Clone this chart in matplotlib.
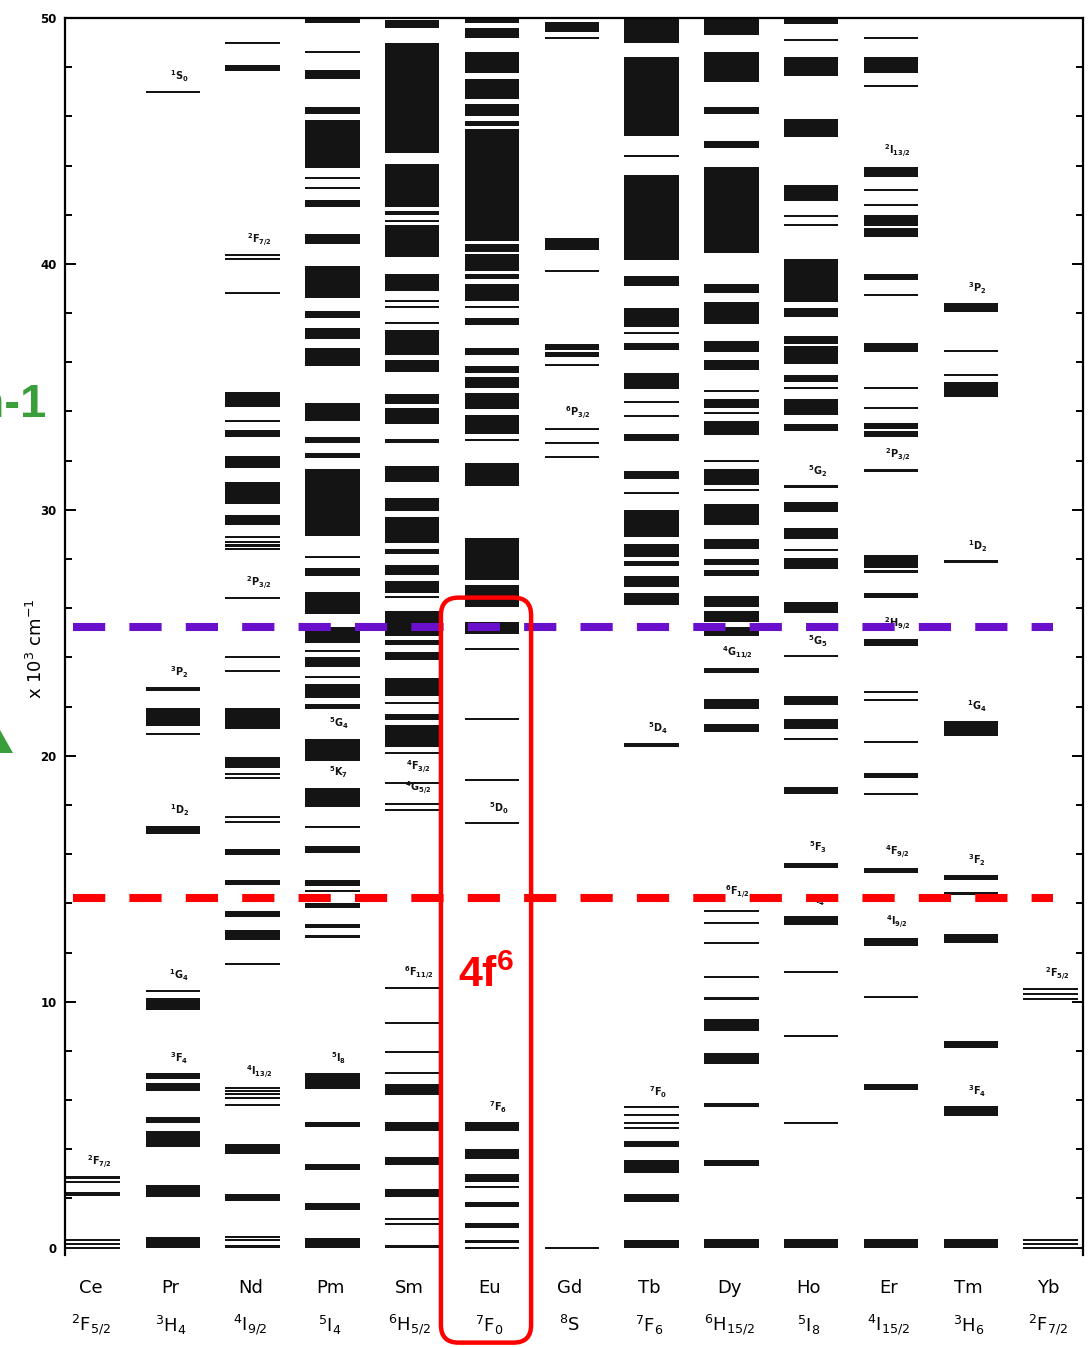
import matplotlib
matplotlib.use("Agg")
import matplotlib.pyplot as plt
from matplotlib.patches import FancyBboxPatch, Polygon
from matplotlib.ticker import MultipleLocator

plt.rcParams['font.family'] = ['DejaVu Sans']
plt.rcParams['mathtext.fontset'] = 'custom'
plt.rcParams['mathtext.rm'] = 'DejaVu Sans'
plt.rcParams['mathtext.bf'] = 'DejaVu Sans:bold'
plt.rcParams['mathtext.default'] = 'regular'

# ---------------- data (energies in 10^3 cm^-1, (low, high) of each level group) -------------
elements = ["Ce", "Pr", "Nd", "Pm", "Sm", "Eu", "Gd", "Tb", "Dy", "Ho", "Er", "Tm", "Yb"]
ground_terms = [r"$^2$F$_{5/2}$", r"$^3$H$_4$", r"$^4$I$_{9/2}$", r"$^5$I$_4$", r"$^6$H$_{5/2}$",
                r"$^7$F$_0$", r"$^8$S", r"$^7$F$_6$", r"$^6$H$_{15/2}$", r"$^5$I$_8$",
                r"$^4$I$_{15/2}$", r"$^3$H$_6$", r"$^2$F$_{7/2}$"]

ce = [(0.0, 0.0), (0.16, 0.16), (0.32, 0.32), (2.1, 2.25), (2.65, 2.65), (2.85, 2.85)]
pr = [(0.0, 0.45), (2.05, 2.55), (4.1, 4.75), (5.05, 5.3), (6.35, 6.7), (6.85, 7.1),
      (9.65, 10.15), (10.45, 10.45), (16.8, 17.15), (20.9, 20.9), (21.2, 21.95),
      (22.65, 22.8), (47.0, 47.0)]
nd = [(0.0, 0.1), (0.3, 0.3), (0.45, 0.45), (1.9, 2.2), (3.8, 4.2), (5.8, 5.8), (6.07, 6.07),
      (6.23, 6.23), (6.37, 6.37), (6.5, 6.5), (11.55, 11.55), (12.5, 12.9), (13.45, 13.7),
      (14.75, 14.95), (15.95, 16.2), (17.3, 17.3), (17.5, 17.5), (19.1, 19.1), (19.27, 19.27),
      (19.5, 19.95), (21.1, 21.95), (23.45, 23.45), (24.0, 24.0), (26.4, 26.4), (28.4, 28.4),
      (28.55, 28.55), (28.7, 28.7), (28.9, 28.9), (29.4, 29.8), (30.25, 31.15), (31.7, 32.2),
      (32.97, 33.25), (33.6, 33.6), (34.2, 34.8), (38.8, 38.8), (40.2, 40.2), (40.35, 40.35),
      (47.85, 48.1), (49.0, 49.0)]
pm = [(0.0, 0.4), (1.55, 1.8), (3.15, 3.4), (4.9, 5.1), (6.45, 7.1), (12.65, 12.65),
      (13.0, 13.15), (13.8, 14.0), (14.5, 14.5), (14.7, 14.95), (16.05, 16.35), (17.1, 17.1),
      (17.9, 18.7), (19.8, 20.7), (21.9, 22.1), (22.35, 22.9), (23.2, 23.2), (23.6, 24.0),
      (24.25, 24.25), (24.6, 25.25), (25.75, 26.65), (27.3, 27.65), (28.1, 28.1),
      (28.95, 31.65), (32.1, 32.3), (32.7, 32.95), (33.6, 34.35), (35.85, 36.6), (36.95, 37.4),
      (37.8, 38.1), (38.6, 39.9), (40.8, 41.2), (42.3, 42.6), (43.1, 43.1), (43.5, 43.5),
      (43.9, 45.85), (46.1, 46.4), (47.5, 47.9), (48.6, 48.6), (49.8, 50.0)]
sm = [(0.0, 0.1), (0.95, 0.95), (1.15, 1.15), (2.05, 2.4), (3.35, 3.7), (4.75, 5.1),
      (6.2, 6.65), (7.1, 7.1), (7.95, 7.95), (9.15, 9.15), (10.55, 10.55), (17.8, 17.8),
      (18.05, 18.05), (18.9, 18.9), (20.1, 20.1), (20.35, 21.25), (21.45, 21.7), (22.15, 22.15),
      (22.45, 23.15), (23.9, 24.2), (24.5, 24.7), (24.85, 25.9), (26.45, 26.45), (26.6, 27.1),
      (27.35, 27.75), (28.2, 28.4), (28.65, 29.7), (29.95, 30.5), (31.15, 31.8), (32.7, 32.9),
      (33.5, 34.15), (34.3, 34.7), (35.6, 36.1), (36.3, 37.3), (37.6, 37.6), (38.25, 38.25),
      (38.5, 38.5), (38.9, 39.6), (40.3, 41.6), (41.75, 41.75), (42.0, 42.15), (42.3, 44.05),
      (44.5, 49.0), (49.6, 49.9)]
eu = [(0.0, 0.0), (0.25, 0.25), (0.8, 1.0), (1.65, 1.85), (2.45, 2.45), (2.65, 3.0),
      (3.6, 4.0), (4.75, 5.1), (17.25, 17.25), (19.0, 19.0), (21.5, 21.5), (24.35, 24.35),
      (24.95, 25.45), (26.05, 26.95), (27.15, 28.85), (30.95, 31.9), (32.8, 32.9),
      (33.1, 33.85), (34.1, 34.75), (34.95, 35.4), (35.55, 35.85), (36.3, 36.6), (37.5, 37.8),
      (38.25, 38.25), (38.5, 39.2), (39.4, 39.6), (39.7, 40.4), (40.5, 40.8), (40.95, 45.5),
      (45.6, 45.8), (46.0, 46.5), (46.7, 47.5), (47.75, 48.6), (49.2, 49.6), (49.8, 50.0)]
gd = [(0.0, 0.0), (32.15, 32.15), (32.7, 32.7), (33.3, 33.3), (35.9, 35.9), (36.2, 36.4),
      (36.5, 36.75), (39.7, 39.7), (40.55, 41.05), (49.2, 49.2), (49.45, 49.85)]
tb = [(0.0, 0.3), (1.85, 2.2), (3.05, 3.55), (4.1, 4.35), (4.85, 4.85), (5.05, 5.05),
      (5.4, 5.4), (5.7, 5.7), (20.35, 20.5), (26.15, 26.6), (26.85, 27.3), (27.7, 27.9),
      (28.1, 28.6), (28.9, 30.0), (30.7, 30.7), (31.25, 31.6), (32.8, 33.1), (33.8, 33.8),
      (34.4, 34.4), (34.9, 35.55), (36.5, 36.8), (37.2, 37.2), (37.45, 38.2), (39.1, 39.5),
      (40.15, 43.6), (44.4, 44.4), (45.2, 48.4), (49.0, 50.0)]
dy = [(0.0, 0.35), (3.3, 3.55), (5.7, 5.9), (7.45, 7.9), (8.8, 9.3), (10.05, 10.2),
      (11.0, 11.0), (12.4, 12.4), (13.2, 13.2), (13.7, 13.7), (20.95, 21.3), (21.9, 22.3),
      (23.35, 23.55), (24.85, 25.25), (25.45, 25.9), (26.05, 26.5), (27.3, 27.55),
      (27.75, 28.0), (28.4, 28.8), (29.4, 30.25), (30.8, 30.8), (31.0, 31.65), (32.0, 32.0),
      (33.05, 33.6), (33.95, 33.95), (34.15, 34.5), (34.85, 34.85), (35.7, 36.1),
      (36.4, 36.85), (37.55, 38.45), (38.8, 39.2), (40.45, 43.95), (44.7, 45.0), (46.1, 46.4),
      (47.4, 48.6), (49.3, 50.0)]
ho = [(0.0, 0.35), (5.05, 5.05), (8.6, 8.6), (11.2, 11.2), (13.1, 13.5), (15.45, 15.65),
      (18.45, 18.75), (20.7, 20.7), (21.1, 21.5), (22.05, 22.45), (24.05, 24.05),
      (25.8, 26.25), (27.6, 28.05), (28.35, 28.35), (28.8, 29.25), (29.9, 30.3),
      (30.95, 30.95), (33.2, 33.5), (33.85, 34.5), (34.95, 34.95), (35.2, 35.5),
      (35.95, 36.65), (36.75, 37.05), (37.85, 38.2), (38.45, 40.2), (41.6, 41.6),
      (41.95, 41.95), (42.55, 43.2), (45.15, 45.9), (47.65, 48.4), (49.1, 49.1), (49.75, 50.0)]
er = [(0.0, 0.35), (6.4, 6.65), (10.2, 10.2), (12.25, 12.6), (15.25, 15.45), (18.45, 18.45),
      (19.1, 19.3), (20.55, 20.55), (22.25, 22.25), (22.6, 22.6), (24.45, 24.75),
      (26.4, 26.6), (27.45, 27.55), (27.65, 28.15), (31.6, 31.6), (32.95, 33.2),
      (33.3, 33.55), (34.15, 34.15), (34.95, 34.95), (36.4, 36.8), (38.75, 38.75),
      (39.35, 39.6), (41.1, 41.45), (41.55, 42.0), (42.4, 42.4), (43.0, 43.0), (43.55, 43.95),
      (47.25, 47.25), (47.75, 48.4), (49.2, 49.2)]
tm = [(0.0, 0.35), (5.35, 5.75), (8.1, 8.4), (12.4, 12.75), (14.35, 14.45), (14.95, 15.15),
      (20.8, 21.4), (27.9, 27.9), (34.6, 35.2), (35.5, 35.5), (36.45, 36.45), (38.05, 38.4)]
yb = [(0.0, 0.0), (0.16, 0.16), (0.32, 0.32), (10.1, 10.1), (10.3, 10.3), (10.5, 10.5)]

levels = [ce, pr, nd, pm, sm, eu, gd, tb, dy, ho, er, tm, yb]

# (element index, level energy, term label)
level_labels = [
    (0, 2.85, r"$^2$F$_{7/2}$"),
    (1, 47.0, r"$^1$S$_0$"), (1, 22.8, r"$^3$P$_2$"), (1, 17.15, r"$^1$D$_2$"),
    (1, 10.45, r"$^1$G$_4$"), (1, 7.1, r"$^3$F$_4$"),
    (2, 40.35, r"$^2$F$_{7/2}$"), (2, 26.4, r"$^2$P$_{3/2}$"), (2, 6.5, r"$^4$I$_{13/2}$"),
    (3, 20.7, r"$^5$G$_4$"), (3, 18.7, r"$^5$K$_7$"), (3, 7.1, r"$^5$I$_8$"),
    (4, 18.9, r"$^4$F$_{3/2}$"), (4, 18.05, r"$^4$G$_{5/2}$"), (4, 10.55, r"$^6$F$_{11/2}$"),
    (5, 17.25, r"$^5$D$_0$"), (5, 5.1, r"$^7$F$_6$"),
    (6, 33.3, r"$^6$P$_{3/2}$"),
    (7, 20.5, r"$^5$D$_4$"), (7, 5.7, r"$^7$F$_0$"),
    (8, 23.55, r"$^4$G$_{11/2}$"), (8, 13.85, r"$^6$F$_{1/2}$"),
    (9, 30.95, r"$^5$G$_2$"), (9, 24.05, r"$^5$G$_5$"), (9, 15.65, r"$^5$F$_3$"),
    (9, 13.5, r"$^5$I$_4$"),
    (10, 43.95, r"$^2$I$_{13/2}$"), (10, 31.6, r"$^2$P$_{3/2}$"), (10, 24.75, r"$^2$H$_{9/2}$"),
    (10, 15.45, r"$^4$F$_{9/2}$"), (10, 12.6, r"$^4$I$_{9/2}$"),
    (11, 38.4, r"$^3$P$_2$"), (11, 27.9, r"$^1$D$_2$"), (11, 21.4, r"$^1$G$_4$"),
    (11, 15.15, r"$^3$F$_2$"), (11, 5.75, r"$^3$F$_4$"),
    (12, 10.5, r"$^2$F$_{5/2}$"),
]

purple_level = 25.25
red_level = 14.2
highlight_element = 5
highlight_text = r"4f$^{6}$"

# ---------------- figure -------------
W, H = 1089, 1347
fig = plt.figure(figsize=(W / 100, H / 100), dpi=100)
fig.patch.set_facecolor("white")
x0_px, dx_px = 93.0, 79.8
ax_left, ax_right, ax_top, ax_bot = 65, 1083, 18, 1255
ax = fig.add_axes([ax_left / W, (H - ax_bot) / H, (ax_right - ax_left) / W, (ax_bot - ax_top) / H])
ax.set_xlim((ax_left - x0_px) / dx_px, (ax_right - x0_px) / dx_px)
ax.set_ylim(-0.3, 50)

bx, bb, bh = [], [], []
min_h = 0.085
for i, lv in enumerate(levels):
    for lo, hi in lv:
        h = max(hi - lo, min_h)
        mid = (lo + hi) / 2
        bx.append(i)
        bb.append(mid - h / 2)
        bh.append(h)
ax.bar(bx, bh, bottom=bb, width=0.68, color="#141414", linewidth=0, zorder=2)

for i, e, lab in level_labels:
    ax.text(i + 0.08, e + 0.3, lab, ha="center", va="bottom", fontsize=7,
            fontweight="bold", color="#111111", zorder=3)

# axes styling
for s in ["left", "right", "top"]:
    ax.spines[s].set_linewidth(1.6)
ax.spines["bottom"].set_visible(False)
ax.set_xticks([])
ax.yaxis.set_major_locator(MultipleLocator(10))
ax.yaxis.set_minor_locator(MultipleLocator(2))
ax.tick_params(axis="y", which="both", direction="in", right=True, left=True,
               labelright=False, width=1.4)
ax.tick_params(axis="y", which="major", length=8, labelsize=8.5, pad=6)
ax.tick_params(axis="y", which="minor", length=5)
for t in ax.get_yticklabels():
    t.set_fontweight("bold")
ax.set_ylabel(r"x 10$^3$ cm$^{-1}$", fontsize=13)
ax.yaxis.set_label_coords(-0.019, 0.49)

# element labels and ground terms
for i, (el, term) in enumerate(zip(elements, ground_terms)):
    ax.text(i - 0.03, -1.63, el, ha="center", va="center", fontsize=13, clip_on=False)
    ax.text(i - 0.03, -3.15, term, ha="center", va="center", fontsize=13, clip_on=False)

# dashed reference lines
dash_x = [(73 - x0_px) / dx_px, (1053 - x0_px) / dx_px]
for yv, col in [(purple_level, "#6a10cc"), (red_level, "#ff0000")]:
    ln, = ax.plot(dash_x, [yv, yv], color=col, lw=5.8, zorder=5, solid_capstyle="butt",
                  dash_capstyle="butt", clip_on=False)
    ln.set_dashes([4, 3])

# highlight box around Eu
px_per_y = (ax_bot - ax_top) / 50.3
box_lo_y = (1248 - 1343) / px_per_y
box_hi_y = (1248 - 598) / px_per_y
bxl = highlight_element - 0.64
bxr = highlight_element + 0.49
box = FancyBboxPatch((bxl, box_lo_y), bxr - bxl, box_hi_y - box_lo_y,
                     boxstyle="round,pad=0,rounding_size=0.22",
                     mutation_aspect=dx_px / px_per_y,
                     fill=False, edgecolor="#ff0000", linewidth=3.2, zorder=6, clip_on=False)
ax.add_patch(box)
ax.text(highlight_element - 0.07, 10.6, highlight_text, ha="center", va="baseline",
        fontsize=31, fontweight="bold", family="Liberation Sans", color="#ff0000", zorder=6)

# cropped green annotation at the left edge (cut by the picture edge as in the source)
fig.text(46 / W, 1 - 405 / H, "cm-1", ha="right", va="center", fontsize=34,
         fontweight="bold", family="Liberation Sans", color="#3a9e3a")
tri = Polygon([[0, 1 - 730 / H], [13 / W, 1 - 753 / H], [0, 1 - 753 / H]], closed=True,
              transform=fig.transFigure, facecolor="#3a9e3a", edgecolor="none")
fig.patches.append(tri)

fig.savefig("out.png", dpi=100, facecolor="white")
